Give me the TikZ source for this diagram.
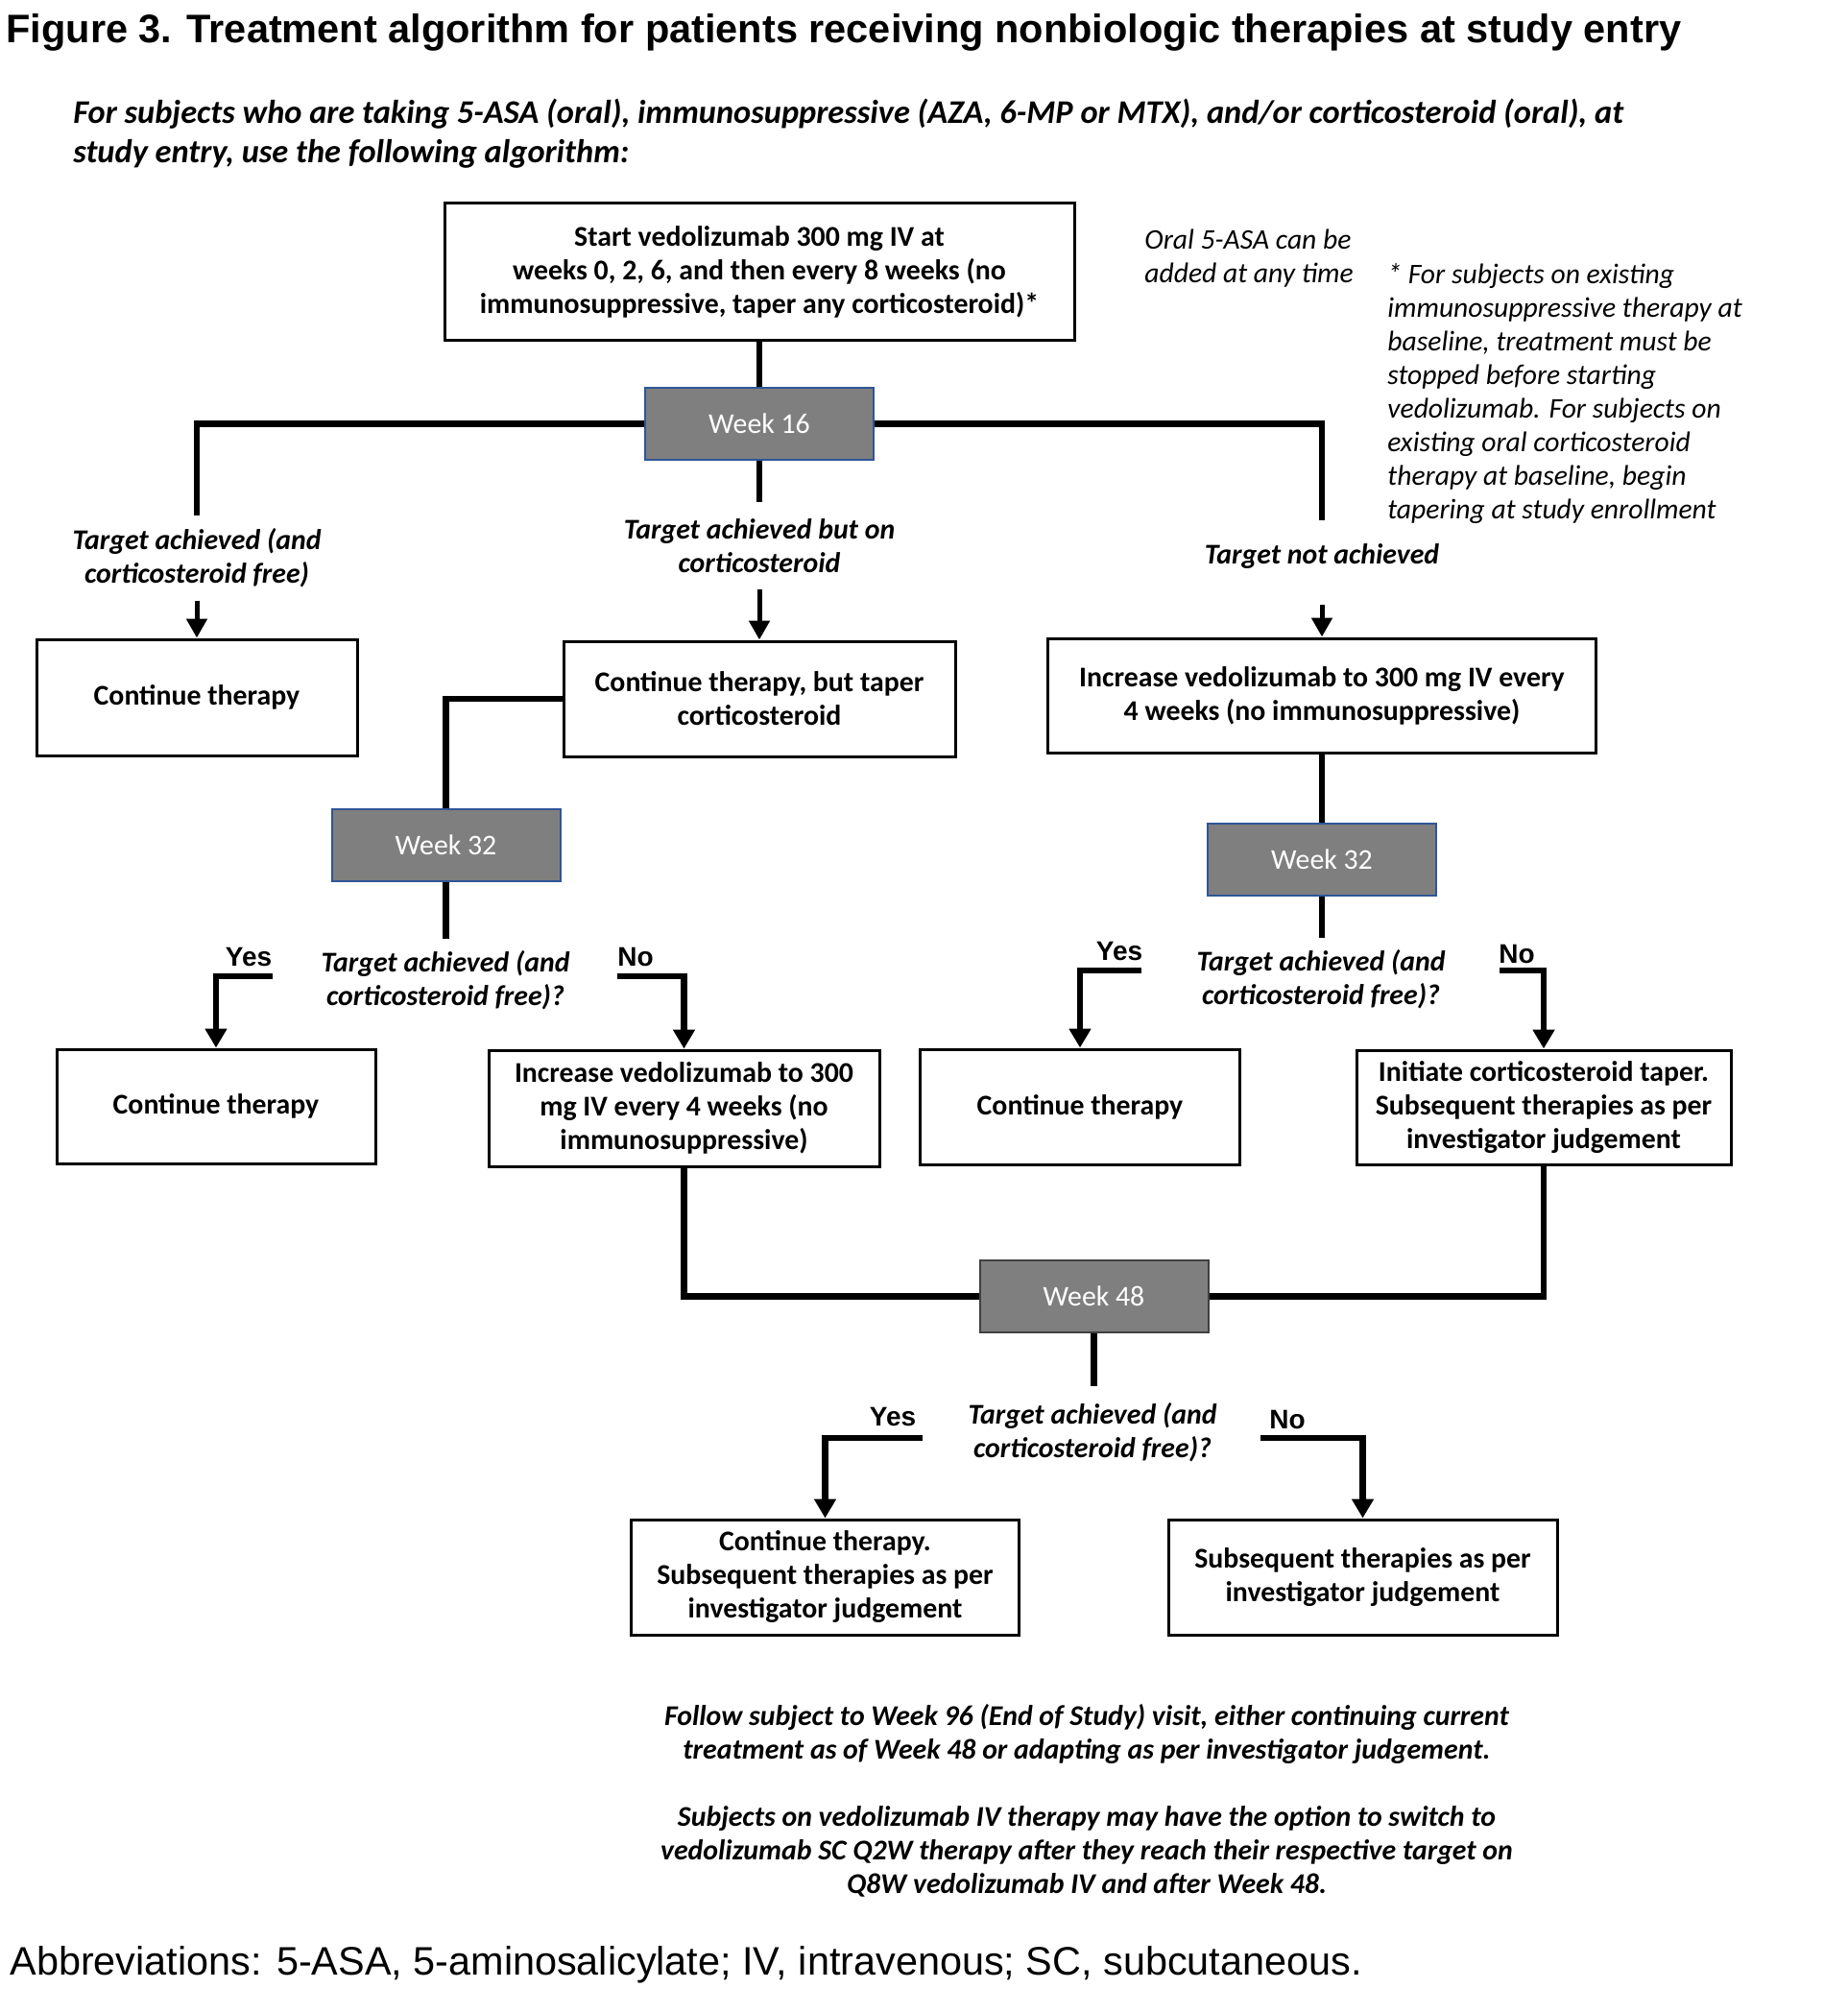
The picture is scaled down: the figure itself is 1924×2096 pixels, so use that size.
\documentclass[tikz,border=0pt]{standalone}
\usepackage{fontspec}
\setmainfont{Carlito}
\newfontfamily\arialfont{Liberation Sans}
\usetikzlibrary{arrows.meta}
\definecolor{weekgray}{HTML}{7F7F7F}
\definecolor{weekblue}{HTML}{2F5597}
\definecolor{weekdark}{HTML}{404040}
\newcommand{\boxfont}{\fontsize{14.9}{17.5}\selectfont}

\begin{document}
\begin{tikzpicture}[x=0.5pt, y=-0.5pt,
        box/.style={draw=black, line width=1.5pt, fill=white, align=center, inner sep=0pt, font=\boxfont\bfseries},
        week/.style={draw=weekblue, line width=1pt, fill=weekgray, text=white, minimum width=119pt, minimum height=37.5pt, font=\boxfont},
        lbl/.style={align=center, inner sep=0pt, anchor=north, font=\boxfont\bfseries\itshape},
        yn/.style={inner sep=0pt, anchor=base, font=\arialfont\fontsize{14}{17}\selectfont\bfseries},
        note/.style={align=left, inner sep=0pt, anchor=north west, font=\fontsize{14.8}{17.5}\selectfont\itshape},
        thk/.style={line width=3.4pt},
        arr/.style={line width=2.5pt, -{Triangle[length=10pt, width=10.5pt]}},
        thkarr/.style={line width=3.4pt, -{Triangle[length=10pt, width=11pt]}}]

    % page
    \fill[white] (0,0) rectangle (1924,2096);
    \useasboundingbox (0,0) rectangle (1924,2096);

    % title and intro
    \node[anchor=base west, inner sep=0pt, font=\arialfont\fontsize{20.75}{24}\selectfont\bfseries] (title) at (6,45)
        {Figure 3. Treatment algorithm for patients receiving nonbiologic therapies at study entry};
    \node[anchor=north west, align=left, inner sep=0pt, font=\fontsize{17.2}{20.5}\selectfont\bfseries\itshape] (intro) at (76,103)
        {For subjects who are taking 5-ASA (oral), immunosuppressive (AZA, 6-MP or MTX), and/or corticosteroid (oral), at\\
         study entry, use the following algorithm:};

    % start and week 16
    \node[box, minimum width=328pt, minimum height=71.5pt] (start) at (791,283.5)
        {Start vedolizumab 300 mg IV at\\weeks 0, 2, 6, and then every 8 weeks (no\\immunosuppressive, taper any corticosteroid)*};
    \node[week] (w16) at (791,441.5) {Week 16};

    % side notes
    \node[note] (asa) at (1192,239) {Oral 5-ASA can be\\added at any time};
    \node[note] (star) at (1445,274) {* For subjects on existing\\immunosuppressive therapy at\\baseline, treatment must be\\stopped before starting\\vedolizumab. For subjects on\\existing oral corticosteroid\\therapy at baseline, begin\\tapering at study enrollment};

    % week 16 outcomes
    \node[lbl] (lblL) at (205,550) {Target achieved (and\\corticosteroid free)};
    \node[lbl] (lblM) at (791,540) {Target achieved but on\\corticosteroid};
    \node[yn, font=\boxfont\bfseries\itshape] (lblR) at (1377,588) {Target not achieved};

    \node[box, minimum width=167pt, minimum height=60.5pt] (cont1) at (205,726.5) {Continue therapy};
    \node[box, minimum width=204pt, minimum height=60pt] (taper) at (791,728) {Continue therapy, but taper\\corticosteroid};
    \node[box, minimum width=285.5pt, minimum height=59.5pt] (incr1) at (1377,724.5) {Increase vedolizumab to 300 mg IV every\\4 weeks (no immunosuppressive)};

    % week 32
    \node[week] (w32L) at (464.5,880.5) {Week 32};
    \node[week] (w32R) at (1377,895.5) {Week 32};
    \node[lbl] (q32L) at (464,990) {Target achieved (and\\corticosteroid free)?};
    \node[lbl] (q32R) at (1376,989) {Target achieved (and\\corticosteroid free)?};
    \node[yn] (yesL) at (259,1006) {Yes};
    \node[yn] (noL) at (662,1006) {No};
    \node[yn] (yesR) at (1166,1000) {Yes};
    \node[yn] (noR) at (1580,1003) {No};

    \node[box, minimum width=166pt, minimum height=59.5pt] (cont2) at (225,1152.5) {Continue therapy};
    \node[box, minimum width=203.5pt, minimum height=60.5pt] (incr2) at (712.5,1154.5) {Increase vedolizumab to 300\\mg IV every 4 weeks (no\\immunosuppressive)};
    \node[box, minimum width=166.5pt, minimum height=60pt] (cont3) at (1125,1153) {Continue therapy};
    \node[box, minimum width=195pt, minimum height=59.5pt] (init) at (1608,1153.5) {Initiate corticosteroid taper.\\Subsequent therapies as per\\investigator judgement};

    % week 48
    \node[week, draw=weekdark] (w48) at (1139.5,1350.5) {Week 48};
    \node[lbl] (q48) at (1138,1461) {Target achieved (and\\corticosteroid free)?};
    \node[yn] (yes48) at (930,1485) {Yes};
    \node[yn] (no48) at (1341,1488) {No};

    \node[box, minimum width=202pt, minimum height=60pt] (cont4) at (859.5,1643) {Continue therapy.\\Subsequent therapies as per\\investigator judgement};
    \node[box, minimum width=202.5pt, minimum height=60pt] (subs) at (1419.5,1643) {Subsequent therapies as per\\investigator judgement};

    % closing notes
    \node[lbl] (follow) at (1132,1775) {Follow subject to Week 96 (End of Study) visit, either continuing current\\treatment as of Week 48 or adapting as per investigator judgement.};
    \node[lbl] (switch) at (1132,1881) {Subjects on vedolizumab IV therapy may have the option to switch to\\vedolizumab SC Q2W therapy after they reach their respective target on\\Q8W vedolizumab IV and after Week 48.};
    \node[anchor=base west, inner sep=0pt, font=\arialfont\fontsize{20.7}{24}\selectfont] (abbr) at (10,2057)
        {Abbreviations: 5-ASA, 5-aminosalicylate; IV, intravenous; SC, subcutaneous.};

    % free ends
    \coordinate (eL) at (205,537);
    \coordinate (eM) at (791,523);
    \coordinate (eR) at (1377,542);
    \coordinate (aL) at ([yshift=19.5pt]cont1.north);
    \coordinate (aM) at ([yshift=26.5pt]taper.north);
    \coordinate (aR) at ([yshift=17pt]incr1.north);
    \coordinate (e32L) at (464.5,978);
    \coordinate (e32R) at (1377,977);
    \coordinate (yL) at (284,1017);
    \coordinate (nL) at (643,1017);
    \coordinate (yR) at (1189,1011);
    \coordinate (nR) at (1562,1011);
    \coordinate (e48) at (1139.5,1444);
    \coordinate (y48) at (961,1498);
    \coordinate (n48) at (1313,1498);

    % connectors
    \draw[thk] (start) -- (w16);
    \draw[thk] (w16.west) -| (eL);
    \draw[thk] (w16) -- (eM);
    \draw[thk] (w16.east) -| (eR);
    \draw[arr] (aL) -- (cont1.north);
    \draw[arr] (aM) -- (taper.north);
    \draw[arr] (aR) -- (incr1.north);
    \draw[thk] (taper.west) -| (w32L.north);
    \draw[thk] (incr1) -- (w32R);
    \draw[thk] (w32L) -- (e32L);
    \draw[thk] (w32R) -- (e32R);
    \draw[thkarr] (yL) -| (cont2.north);
    \draw[thkarr] (nL) -| (incr2.north);
    \draw[thkarr] (yR) -| (cont3.north);
    \draw[thkarr] (nR) -| (init.north);
    \draw[thk] (incr2.south) |- (w48.west);
    \draw[thk] (init.south) |- (w48.east);
    \draw[thk] (w48) -- (e48);
    \draw[thkarr] (y48) -| (cont4.north);
    \draw[thkarr] (n48) -| (subs.north);
\end{tikzpicture}
\end{document}
